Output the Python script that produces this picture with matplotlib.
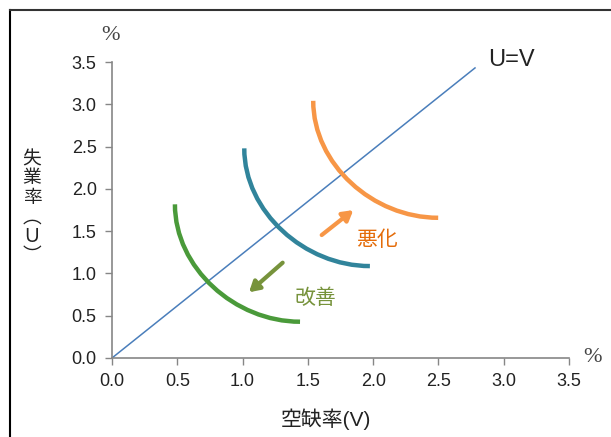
import matplotlib
matplotlib.use("Agg")
import matplotlib.pyplot as plt
from matplotlib.lines import Line2D
from matplotlib.path import Path
from matplotlib.patches import PathPatch

plt.rcParams['font.family'] = ['Liberation Sans', 'Noto Sans CJK JP', 'DejaVu Sans']

# Data
ticks = [0.0, 0.5, 1.0, 1.5, 2.0, 2.5, 3.0, 3.5]

diag_v = [0.0, 2.78]
diag_u = [0.0, 3.43]

# UV curves: green (improved), blue (current), orange (worsened)
arc_names = ['green', 'blue', 'orange']
arc_start_v = [0.482, 1.013, 1.541]
arc_start_u = [1.817, 2.479, 3.041]
arc_end_v = [1.440, 1.975, 2.498]
arc_end_u = [0.429, 1.087, 1.658]
arc_colors = ['#4a9a3a', '#31849b', '#f79646']

# arrows: (tail, head)
worse_arrow = [(1.606, 1.454), (1.848, 1.749)]
better_arrow = [(1.307, 1.127), (1.049, 0.777)]

fig = plt.figure(figsize=(6.11, 4.37), dpi=100)
ax = fig.add_axes([0.1833, 0.1808, 0.7480, 0.6773])

ax.plot(diag_v, diag_u, color='#4a7ebb', lw=1.1, zorder=2)

# each curve: vertical tangent at the top, horizontal at the bottom
for v0, u0, v1, u1, c in zip(arc_start_v, arc_start_u, arc_end_v, arc_end_u, arc_colors):
    verts = [(v0, u0), (v0, u0 - 0.75), (v1 - 0.5, u1), (v1, u1)]
    path = Path(verts, [Path.MOVETO, Path.CURVE4, Path.CURVE4, Path.CURVE4])
    ax.add_patch(PathPatch(path, facecolor='none', edgecolor=c, lw=3.2,
                           capstyle='butt', zorder=3))

ax.annotate('', xy=worse_arrow[1], xytext=worse_arrow[0],
            arrowprops=dict(arrowstyle='-|>,head_length=0.6,head_width=0.35',
                            color='#f79646', lw=3, shrinkA=0, shrinkB=0))
ax.annotate('', xy=better_arrow[1], xytext=better_arrow[0],
            arrowprops=dict(arrowstyle='-|>,head_length=0.6,head_width=0.35',
                            color='#77933c', lw=3, shrinkA=0, shrinkB=0))

ax.text(2.03, 1.395, '悪化', color='#e46c0a', fontsize=15,
        family=['Noto Sans CJK JP'], ha='center', va='center')
ax.text(1.554, 0.706, '改善', color='#77933c', fontsize=15,
        family=['Noto Sans CJK JP'], ha='center', va='center')
ax.text(2.88, 3.52, 'U=V', color='#222222', fontsize=17, ha='left', va='center')

ax.set_xlim(0, 3.5)
ax.set_ylim(0, 3.5)
ax.set_xticks(ticks)
ax.set_yticks(ticks)
ax.set_xticklabels([f'{t:.1f}' for t in ticks])
ax.set_yticklabels([f'{t:.1f}' for t in ticks])
ax.tick_params(labelsize=13, colors='#868686', labelcolor='#222222',
               direction='out', length=5, width=1, pad=6)
for s in ['top', 'right']:
    ax.spines[s].set_visible(False)
for s in ['left', 'bottom']:
    ax.spines[s].set_color('#868686')
    ax.spines[s].set_linewidth(1.2)

fig.text(326 / 611, 1 - 419 / 437, '空缺率(V)', fontsize=15, color='#222222',
         ha='center', va='center')
fig.text(32 / 611, 1 - 207 / 437, '失\n業\n率\n︵\nＵ\n︶', fontsize=13.5,
         color='#222222', ha='center', va='center', linespacing=0.9,
         family=['Noto Sans CJK JP', 'Liberation Sans'])
fig.text(110 / 611, 1 - 36 / 437, '%', fontsize=16, color='#444444',
         family=['Liberation Serif'], ha='center', va='center')
fig.text(592 / 611, 1 - 358 / 437, '%', fontsize=16, color='#444444',
         family=['Liberation Serif'], ha='center', va='center')

# frame lines at left and top of the picture
fig.add_artist(Line2D([10 / 611, 10 / 611], [0, 1 - 10 / 437],
                      transform=fig.transFigure, color='black', lw=1.5))
fig.add_artist(Line2D([10 / 611, 1], [1 - 10 / 437, 1 - 10 / 437],
                      transform=fig.transFigure, color='#333333', lw=1.5))

fig.savefig('out.png', dpi=100)
